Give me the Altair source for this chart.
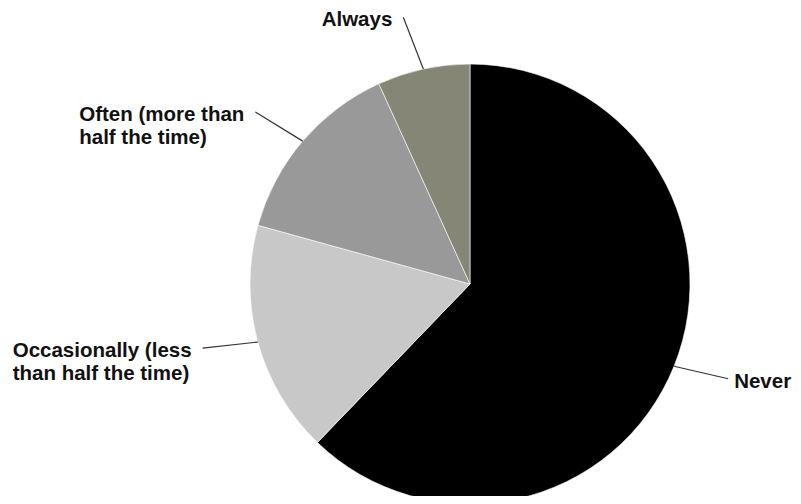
import math
import altair as alt
import pandas as pd

categories = ["Never", "Occasionally (less\nthan half the time)", "Often (more than\nhalf the time)", "Always"]
values = [62.2, 17.1, 13.9, 6.8]
colors = ["#000000", "#c8c8c8", "#999999", "#868676"]

W, H = 785, 488
CX, CY, R = 462, 276, 220
R_OUT = 275
FS = 20.5
TILT = math.radians(1.8)  # leader end rotated slightly toward horizontal

# Arial/Liberation Sans Bold advance widths (per 1000 em)
ADV = {"A": 722, "l": 278, "w": 778, "a": 556, "y": 556, "s": 556, "O": 778, "f": 333,
       "t": 333, "e": 556, "n": 611, " ": 278, "(": 333, ")": 333, "m": 889, "o": 611,
       "r": 389, "h": 611, "c": 556, "i": 278, "N": 722, "v": 556}


def text_width(s):
    return max(sum(ADV.get(ch, 556) for ch in line) for line in s.split("\n")) * FS / 1000


total = sum(values)
rows = []
cum = 0.0
for i, (c, v) in enumerate(zip(categories, values)):
    mid = (cum + v / 2) / total * 2 * math.pi
    cum += v
    right = math.sin(mid) > 0
    target = math.pi / 2 if right else 3 * math.pi / 2
    end = mid + (TILT if target > mid else -TILT)
    sx, sy = CX + R * math.sin(mid), CY - R * math.cos(mid)
    ex, ey = CX + R_OUT * math.sin(end), CY - R_OUT * math.cos(end)
    tx = ex + 6 if right else ex - 11 - text_width(c)
    rows.append(dict(cat=c, val=v, idx=i, sx=sx, sy=sy, ex=ex, ey=ey, tx=tx, ty=ey - 7))
df = pd.DataFrame(rows)

xs = alt.Scale(domain=[0, W], range=[0, W])
ys = alt.Scale(domain=[0, H], range=[0, H])

pie = alt.Chart(df).mark_arc(radius=R, stroke="white", strokeWidth=0.6).encode(
    theta=alt.Theta("val:Q", stack=True),
    order=alt.Order("idx:Q"),
    color=alt.Color("cat:N", scale=alt.Scale(domain=categories, range=colors), legend=None),
    x=alt.value(CX), y=alt.value(CY),
)

lines = alt.Chart(df).mark_rule(color="#333333", strokeWidth=1.2).encode(
    x=alt.X("sx:Q", scale=xs, axis=None),
    y=alt.Y("sy:Q", scale=ys, axis=None),
    x2="ex:Q", y2="ey:Q",
)

labels = alt.Chart(df).mark_text(
    align="left", baseline="top", fontSize=FS, fontWeight="bold",
    font="Liberation Sans", lineBreak="\n", lineHeight=23, color="#111111",
).encode(
    x=alt.X("tx:Q", scale=xs, axis=None),
    y=alt.Y("ty:Q", scale=ys, axis=None),
    text="cat:N",
)

chart = alt.layer(pie, lines, labels).properties(
    width=W, height=H, padding=0, autosize=alt.AutoSizeParams(type="none"),
).configure_view(stroke=None)

chart.save("out.html", embed_options={"renderer": "svg", "actions": False})
